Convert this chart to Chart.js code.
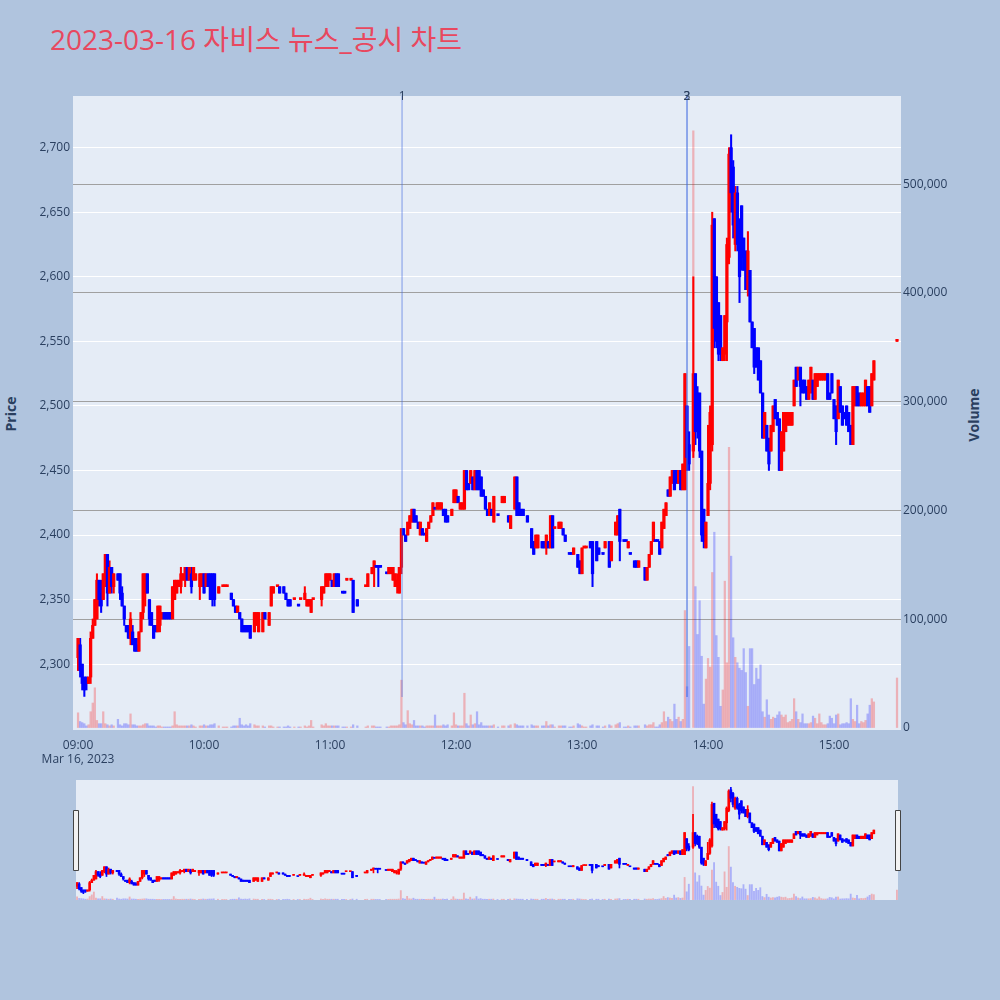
<!DOCTYPE html>
<html><head><meta charset="utf-8">
<script src="https://cdn.jsdelivr.net/npm/chart.js@4.4.0/dist/chart.umd.min.js"></script>
<style>
html,body{margin:0;padding:0;background:#B0C4DE;width:1000px;height:1000px;overflow:hidden;}
#title{position:absolute;left:50px;top:25px;font-family:'Open Sans','Noto Sans CJK KR',sans-serif;font-size:28px;color:#e8485f;line-height:1;white-space:nowrap;}
.ytitle{position:absolute;font-family:'Open Sans',sans-serif;font-weight:bold;font-size:14px;color:#2a3f5f;white-space:nowrap;transform:translate(-50%,-50%) rotate(-90deg);}
#main{position:absolute;left:0;top:0;}
#slider{position:absolute;left:0;top:770px;}
</style></head>
<body>
<div id="title">2023-03-16 자비스 뉴스_공시 차트</div>
<div class="ytitle" style="left:10px;top:414px;">Price</div>
<div class="ytitle" style="left:973px;top:415px;">Volume</div>
<canvas id="main" width="1000" height="770"></canvas>
<canvas id="slider" width="1000" height="140"></canvas>
<script>
// minutes after 09:00
const minutes = [
0,1,2,3,4,5,6,7,8,9,10,11,12,13,14,15,16,17,
19,20,21,22,23,24,25,26,27,28,29,30,31,32,33,34,35,36,37,
38,39,40,41,42,43,44,45,46,47,48,49,50,51,52,53,54,55,56,
58,59,60,61,62,63,64,65,67,69,70,71,73,74,75,76,77,78,79,80,81,82,
84,85,86,88,89,91,92,93,95,96,98,99,100,101,103,105,106,108,109,110,111,112,
116,117,118,119,120,121,122,123,124,126,127,128,130,131,133,137,138,140,141,142,143,144,147,148,149,150,151,152,153,154,155,
156,157,158,159,160,161,162,163,164,165,166,167,168,169,170,171,172,173,174,175,176,178,179,180,181,182,183,184,185,186,187,188,189,190,191,192,193,194,195,196,197,198,
200,202,203,205,206,208,209,210,211,212,214,216,217,218,219,221,222,223,224,225,226,227,229,230,231,232,234,235,236,238,239,240,241,242,244,245,
247,248,250,251,253,254,256,257,258,260,261,262,263,265,266,267,270,271,272,273,274,275,276,277,278,279,280,281,282,283,284,285,286,287,288,
289,290,291,293,294,295,296,297,298,299,300,301,302,303,304,305,306,307,308,309,310,311,312,313,314,315,316,317,318,319,320,
321,322,323,324,325,326,327,328,329,330,331,332,333,334,335,336,337,338,339,340,341,342,343,344,345,346,347,348,349,350,351,352,353,354,355,
356,357,358,359,360,361,362,363,364,365,366,367,368,369,370,371,372,373,374,375,376,377,378,379,390
];
const opens = [
2305,2315,2300,2290,2290,2285,2290,2320,2330,2335,2365,2355,2350,2365,2385,2355,2375,2360,
2370,2370,2355,2345,2330,2330,2320,2325,2320,2315,2310,2325,2340,2355,2370,2350,2340,2330,2330,
2325,2330,2335,2340,2340,2340,2340,2335,2350,2355,2360,2360,2365,2365,2375,2365,2370,2365,2365,
2360,2360,2370,2360,2370,2370,2370,2370,2355,2360,2360,2360,2355,2350,2345,2340,2340,2335,2330,2330,2330,2330,
2325,2330,2325,2325,2340,2330,2345,2355,2360,2360,2360,2355,2350,2350,2350,2345,2350,2350,2345,2345,2340,2350,
2350,2355,2360,2360,2365,2365,2360,2370,2370,2355,2355,2365,2365,2365,2350,2360,2360,2370,2375,2375,2375,2375,2370,2370,2370,2365,2360,2360,2355,2375,2405,
2400,2400,2405,2410,2420,2415,2410,2400,2405,2400,2395,2405,2410,2415,2420,2420,2420,2420,2420,2420,2415,2415,2425,2425,2430,2420,2420,2420,2450,2440,2440,2445,2435,2450,2450,2445,2435,2430,2420,2415,2420,2410,
2415,2425,2425,2415,2405,2420,2445,2425,2420,2420,2415,2405,2395,2390,2390,2395,2395,2390,2395,2390,2415,2405,2405,2405,2405,2400,2385,2385,2385,2385,2380,2370,2390,2390,2395,2395,
2395,2390,2385,2390,2395,2380,2400,2400,2420,2395,2395,2390,2385,2380,2380,2375,2375,2365,2375,2385,2395,2395,2395,2395,2390,2405,2415,2435,2430,2440,2450,2450,2440,2450,2435,
2435,2500,2470,2465,2525,2510,2510,2465,2420,2390,2415,2440,2470,2645,2600,2580,2570,2535,2540,2565,2615,2700,2685,2625,2665,2640,2655,2630,2620,2590,2605,
2565,2560,2545,2545,2535,2510,2475,2485,2475,2465,2480,2505,2495,2490,2450,2465,2480,2485,2485,2485,2500,2530,2520,2530,2520,2520,2515,2505,2510,2520,2505,2515,2520,2520,2520,
2520,2525,2510,2525,2505,2500,2490,2515,2500,2495,2500,2495,2485,2470,2500,2515,2510,2500,2500,2500,2515,2515,2500,2520,2550
];
const highs = [
2320,2320,2300,2290,2290,2290,2325,2335,2350,2370,2365,2365,2370,2385,2385,2380,2375,2370,
2370,2370,2360,2345,2330,2330,2340,2330,2320,2320,2325,2340,2370,2370,2370,2350,2340,2330,2330,
2345,2345,2340,2340,2340,2340,2340,2360,2365,2365,2365,2375,2370,2375,2375,2375,2375,2375,2370,
2370,2370,2370,2370,2370,2370,2370,2370,2360,2360,2360,2360,2355,2350,2345,2345,2340,2335,2330,2330,2330,2330,
2340,2340,2340,2340,2340,2340,2360,2360,2360,2360,2360,2355,2350,2350,2350,2345,2350,2360,2350,2350,2350,2350,
2360,2360,2370,2370,2370,2365,2370,2370,2370,2355,2355,2365,2365,2365,2350,2360,2370,2375,2380,2375,2375,2375,2370,2375,2375,2375,2370,2370,2375,2405,2405,
2400,2410,2415,2420,2420,2415,2410,2410,2405,2400,2405,2410,2415,2425,2420,2425,2425,2425,2420,2420,2415,2420,2435,2435,2430,2425,2425,2450,2450,2440,2450,2445,2450,2450,2450,2445,2435,2430,2420,2425,2420,2430,
2415,2430,2430,2415,2415,2445,2445,2425,2420,2420,2415,2405,2395,2400,2400,2395,2395,2400,2395,2415,2415,2405,2410,2410,2405,2400,2385,2385,2390,2385,2380,2390,2390,2390,2395,2395,
2395,2390,2385,2395,2395,2395,2410,2415,2420,2395,2395,2395,2385,2380,2380,2380,2375,2375,2385,2395,2410,2395,2395,2395,2410,2420,2425,2435,2445,2450,2450,2450,2450,2450,2455,
2525,2500,2480,2600,2525,2515,2510,2465,2420,2410,2485,2500,2650,2645,2600,2580,2570,2545,2570,2630,2700,2710,2690,2670,2670,2645,2655,2630,2620,2635,2605,
2565,2560,2545,2545,2535,2510,2495,2485,2475,2485,2500,2505,2495,2490,2480,2495,2495,2495,2495,2495,2520,2530,2530,2530,2520,2520,2515,2520,2530,2520,2525,2525,2525,2525,2525,
2525,2525,2510,2525,2505,2500,2520,2515,2500,2495,2500,2495,2485,2515,2515,2515,2510,2510,2510,2520,2515,2515,2525,2535,2550
];
const lows = [
2295,2290,2280,2275,2280,2285,2285,2320,2330,2335,2345,2340,2350,2360,2345,2355,2355,2355,
2365,2350,2345,2330,2325,2320,2315,2315,2310,2310,2310,2325,2335,2345,2355,2330,2330,2320,2325,
2325,2325,2335,2335,2335,2335,2335,2335,2350,2355,2360,2355,2365,2360,2365,2365,2355,2365,2365,
2350,2360,2355,2360,2360,2350,2345,2345,2355,2360,2360,2360,2350,2345,2340,2340,2335,2325,2325,2325,2325,2320,
2325,2330,2325,2325,2335,2330,2345,2355,2360,2355,2355,2350,2345,2345,2350,2345,2350,2350,2345,2345,2340,2350,
2345,2355,2360,2360,2365,2360,2360,2360,2360,2355,2355,2365,2365,2340,2345,2360,2360,2370,2360,2375,2360,2375,2370,2370,2370,2365,2360,2355,2355,2370,2400,
2395,2400,2405,2410,2410,2410,2405,2400,2400,2400,2395,2405,2410,2415,2420,2420,2420,2420,2415,2410,2410,2415,2425,2425,2425,2420,2420,2420,2435,2435,2440,2435,2435,2435,2435,2430,2430,2420,2415,2415,2415,2410,
2415,2425,2425,2410,2405,2420,2415,2415,2415,2415,2410,2390,2385,2390,2390,2390,2390,2385,2390,2390,2390,2405,2405,2405,2400,2395,2385,2385,2385,2375,2370,2370,2390,2390,2390,2360,
2380,2385,2385,2390,2375,2380,2400,2400,2380,2395,2395,2390,2385,2375,2375,2375,2365,2365,2375,2385,2395,2395,2395,2385,2390,2405,2415,2430,2430,2440,2435,2440,2440,2435,2435,
2435,2450,2450,2460,2470,2475,2460,2395,2390,2390,2415,2435,2465,2545,2545,2535,2535,2535,2535,2535,2610,2650,2630,2620,2620,2580,2605,2605,2590,2585,2565,
2545,2525,2530,2520,2510,2475,2475,2465,2450,2465,2480,2490,2485,2450,2450,2465,2480,2485,2485,2485,2500,2515,2520,2500,2510,2510,2505,2505,2510,2505,2505,2515,2520,2520,2520,
2520,2505,2505,2510,2490,2470,2490,2495,2485,2490,2485,2480,2470,2470,2500,2500,2500,2500,2500,2500,2500,2495,2500,2520,2550
];
const closes = [
2320,2295,2285,2280,2285,2290,2320,2330,2350,2365,2350,2345,2370,2385,2355,2375,2360,2370,
2365,2355,2345,2335,2325,2320,2335,2315,2310,2310,2325,2340,2370,2370,2355,2335,2330,2320,2325,
2345,2345,2340,2335,2335,2335,2335,2360,2365,2365,2365,2370,2370,2375,2365,2375,2360,2375,2370,
2370,2370,2355,2370,2360,2350,2350,2350,2360,2360,2360,2360,2350,2345,2340,2345,2335,2325,2325,2325,2325,2320,
2340,2340,2340,2340,2335,2340,2360,2360,2360,2355,2355,2350,2345,2345,2350,2345,2350,2355,2350,2350,2350,2350,
2360,2360,2370,2370,2370,2360,2370,2360,2360,2355,2355,2365,2365,2340,2345,2360,2370,2375,2380,2375,2375,2375,2370,2375,2375,2375,2370,2365,2375,2405,2400,
2395,2410,2415,2420,2410,2410,2405,2410,2400,2400,2405,2410,2415,2425,2420,2425,2425,2425,2415,2410,2410,2420,2435,2435,2425,2425,2425,2450,2435,2435,2450,2435,2450,2435,2435,2430,2430,2420,2415,2425,2415,2430,
2415,2430,2430,2410,2415,2445,2415,2415,2415,2415,2410,2390,2385,2400,2400,2390,2390,2400,2390,2415,2390,2405,2410,2410,2400,2395,2385,2385,2390,2375,2370,2390,2390,2390,2390,2370,
2380,2385,2385,2395,2375,2395,2410,2415,2395,2395,2395,2395,2385,2375,2375,2380,2365,2375,2385,2395,2410,2395,2395,2385,2410,2420,2425,2430,2445,2450,2435,2440,2450,2435,2455,
2525,2460,2455,2525,2480,2480,2465,2400,2395,2410,2440,2495,2640,2560,2550,2540,2540,2545,2570,2625,2695,2665,2640,2665,2625,2600,2615,2605,2590,2620,2565,
2545,2530,2530,2520,2510,2475,2495,2465,2455,2485,2500,2490,2485,2450,2480,2495,2495,2495,2495,2495,2520,2515,2530,2515,2510,2510,2505,2520,2530,2505,2525,2525,2525,2525,2525,
2525,2505,2505,2510,2490,2480,2520,2495,2485,2490,2485,2480,2470,2515,2515,2500,2500,2510,2510,2520,2500,2495,2525,2535,2550
];
const volumes = [
14000,6000,5000,4000,2000,3000,15000,23000,37000,7000,4000,4000,15000,4000,3000,2000,3000,2000,
8000,3000,2000,4000,4000,3000,13000,3000,3000,2000,2000,2000,3000,4000,4000,2000,2000,2000,1000,
2000,2000,1000,1000,1000,1000,1000,2000,15000,3000,2000,2000,2000,2000,2000,2000,3000,2000,1000,
2000,2000,3000,2000,2000,3000,3000,4000,2000,1000,1000,1000,1000,2000,2000,2000,9000,3000,2000,3000,2000,4000,
3000,2000,2000,2000,1000,2000,2000,1000,1000,1000,1000,1000,2000,1000,1000,1000,1000,2000,1000,2000,7000,1000,
3000,2000,4000,2000,2000,2000,2000,2000,2000,1000,1000,1000,1000,3000,2000,1000,2000,2000,2000,1000,1000,1000,1000,1000,2000,2000,2000,2000,3000,44000,5000,
3000,16000,4000,3000,7000,2000,2000,2000,2000,1000,2000,2000,2000,2000,12000,2000,2000,2000,3000,2000,3000,2000,14000,3000,2000,2000,2000,32000,4000,2000,12000,3000,4000,15000,3000,5000,2000,2000,2000,2000,2000,3000,
1000,2000,2000,2000,3000,4000,3000,2000,2000,2000,2000,3000,2000,2000,2000,2000,2000,6000,2000,3000,3000,1000,2000,2000,2000,2000,1000,1000,2000,4000,3000,2000,1000,1000,2000,3000,
2000,2000,1000,2000,3000,2000,3000,4000,5000,1000,1000,2000,1000,2000,2000,2000,3000,2000,3000,3000,5000,1000,1000,3000,5000,15000,6000,10000,8000,6000,22000,8000,10000,6000,8000,
108000,38000,75000,549000,130000,86000,117000,66000,22000,45000,64000,56000,143000,180000,85000,65000,20000,35000,135000,60000,258000,158000,83000,65000,60000,55000,53000,73000,51000,20000,73000,
73000,40000,55000,45000,58000,15000,10000,26000,12000,8000,10000,9000,12000,15000,12000,10000,12000,5000,6000,8000,27000,15000,8000,5000,13000,4000,4000,4000,5000,11000,9000,4000,13000,5000,3000,
3000,4000,11000,9000,4000,12000,13000,3000,4000,4000,5000,4000,27000,8000,6000,21000,4000,6000,5000,7000,13000,21000,27000,24000,46000
];
const xTickValues = [0, 60, 120, 180, 240, 300, 360];
const xTickLabels = ['09:00', '10:00', '11:00', '12:00', '13:00', '14:00', '15:00'];
const dateLabel = 'Mar 16, 2023';
const priceTicks = [2300, 2350, 2400, 2450, 2500, 2550, 2600, 2650, 2700];
const volumeTicks = [0, 100000, 200000, 300000, 400000, 500000];
const newsMinutes = [154.3, 290, 290];
const newsLabels = ['1', '2', '3'];

Chart.defaults.font.family = "'Open Sans', 'Noto Sans CJK KR', sans-serif";
Chart.defaults.font.size = 12;

// plotly-style direction: close vs open, ties resolved by previous close
const increasing = [];
(function(){
  let inc = true, prev = null;
  for (let i = 0; i < closes.length; i++) {
    const o = opens[i], c = closes[i];
    if (c !== o) inc = c > o;
    else if (prev !== null && c !== prev) inc = c > prev;
    increasing.push(inc); prev = c;
  }
})();

function buildDatasets(bodyW, wickW, volW, minLen) {
  const cc = increasing.map(d => d ? '#ff0000' : '#0000ff');
  const vc = increasing.map(d => d ? 'rgba(255,0,0,0.25)' : 'rgba(0,0,255,0.25)');
  return [
    { label: 'body', yAxisID: 'y', order: 1, grouped: false, barThickness: bodyW, minBarLength: minLen,
      backgroundColor: cc,
      data: minutes.map((m, i) => ({ x: m, y: [Math.min(opens[i], closes[i]), Math.max(opens[i], closes[i])] })) },
    { label: 'wick', yAxisID: 'y', order: 2, grouped: false, barThickness: wickW,
      backgroundColor: cc,
      data: minutes.map((m, i) => ({ x: m, y: [lows[i], highs[i]] })) },
    { label: 'volume', yAxisID: 'yv', order: 3, grouped: false, barThickness: volW,
      backgroundColor: vc,
      data: minutes.map((m, i) => ({ x: m, y: volumes[i] })) }
  ];
}

const bgPlugin = { id: 'bgArea', beforeDraw(chart) {
  const { ctx, chartArea: a } = chart;
  ctx.save(); ctx.fillStyle = '#E5ECF6';
  ctx.fillRect(a.left, a.top, a.right - a.left, a.bottom - a.top); ctx.restore();
}};

const newsPlugin = { id: 'news', afterDatasetsDraw(chart) {
  const { ctx, chartArea: a, scales } = chart;
  ctx.save();
  newsMinutes.forEach((m, i) => {
    const px = scales.x.getPixelForValue(m);
    ctx.strokeStyle = 'rgba(65,105,225,0.42)'; ctx.lineWidth = 1.5;
    ctx.beginPath(); ctx.moveTo(px, a.top); ctx.lineTo(px, a.bottom - 0.052 * (a.bottom - a.top)); ctx.stroke();
  });
  ctx.fillStyle = '#2a3f5f'; ctx.font = "12px 'Open Sans', sans-serif";
  ctx.textAlign = 'center'; ctx.textBaseline = 'middle';
  newsMinutes.forEach((m, i) => { ctx.fillText(newsLabels[i], scales.x.getPixelForValue(m), a.top + 1); });
  ctx.restore();
}};

const handlePlugin = { id: 'handles', afterDraw(chart) {
  const { ctx, chartArea: a } = chart;
  ctx.save(); ctx.fillStyle = '#f2f2f2'; ctx.strokeStyle = '#444'; ctx.lineWidth = 1;
  [a.left, a.right - 0.5].forEach(cx => {
    ctx.beginPath(); ctx.rect(Math.round(cx) - 2.5, a.top + 30.5, 5, 60); ctx.fill(); ctx.stroke();
  });
  ctx.restore();
}};

new Chart(document.getElementById('main'), {
  type: 'bar',
  data: { datasets: buildDatasets(2.6, 1.4, 1.6, 2) },
  options: {
    responsive: false, animation: false, devicePixelRatio: 1,
    layout: { padding: { top: 96, left: 0, right: 0, bottom: 0 } },
    plugins: { legend: { display: false }, tooltip: { enabled: false } },
    scales: {
      x: { type: 'linear', min: -2.4, max: 391.9, offset: false,
        grid: { display: false }, border: { display: false },
        afterBuildTicks: s => { s.ticks = xTickValues.map(v => ({ value: v })); },
        afterFit: s => { s.height = 40; },
        ticks: { autoSkip: false, maxRotation: 0, padding: 0, color: '#2a3f5f',
          callback: (v, i) => i === 0 ? [xTickLabels[0], dateLabel] : xTickLabels[i] } },
      y: { type: 'linear', position: 'left', min: 2249, max: 2740,
        grid: { color: '#ffffff', lineWidth: 1, drawTicks: false }, border: { display: false },
        afterBuildTicks: s => { s.ticks = priceTicks.map(v => ({ value: v })); },
        afterFit: s => { s.width = 73; },
        ticks: { padding: 3, color: '#2a3f5f', callback: v => v.toLocaleString('en-US') } },
      yv: { type: 'linear', position: 'right', min: -1800, max: 581000,
        grid: { color: c => (c.tick && c.tick.value === 0) ? 'rgba(0,0,0,0)' : '#a0a0a0', lineWidth: 1, drawTicks: false },
        border: { display: false },
        afterBuildTicks: s => { s.ticks = volumeTicks.map(v => ({ value: v })); },
        afterFit: s => { s.width = 99; },
        ticks: { padding: 2, color: '#2a3f5f', callback: v => v.toLocaleString('en-US') } }
    }
  },
  plugins: [bgPlugin, newsPlugin]
});

new Chart(document.getElementById('slider'), {
  type: 'bar',
  data: { datasets: buildDatasets(2, 1, 1.2, 1) },
  options: {
    responsive: false, animation: false, devicePixelRatio: 1,
    layout: { padding: { top: 10, left: 76, right: 102, bottom: 10 } },
    plugins: { legend: { display: false }, tooltip: { enabled: false } },
    scales: {
      x: { type: 'linear', display: false, min: -0.5, max: 390.5, offset: false },
      y: { display: false, min: 2249, max: 2740 },
      yv: { display: false, position: 'right', min: -1800, max: 581000 }
    }
  },
  plugins: [bgPlugin, handlePlugin]
});
</script>
</body></html>
